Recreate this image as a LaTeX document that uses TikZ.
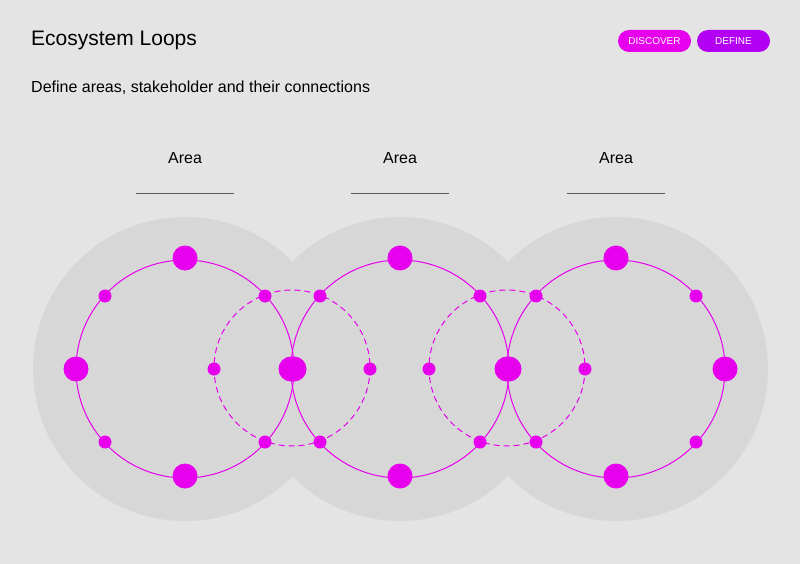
\documentclass[tikz,border=0pt]{standalone}
\usepackage{fontspec}
\setmainfont{Liberation Sans}
\usetikzlibrary{calc}
\begin{document}
\begin{tikzpicture}[x=1pt,y=-1pt]
\definecolor{bg}{HTML}{E4E4E4}
\definecolor{zone}{HTML}{D7D7D7}
\definecolor{mag}{HTML}{E600EE}
\definecolor{pur}{HTML}{B300F5}
\tikzset{ring/.style={draw=mag,line width=1pt},
 dring/.style={draw=mag,line width=1pt,dash pattern=on 6pt off 4pt},
 bigdot/.style={circle,fill=mag,inner sep=0pt,minimum size=25pt},
 smalldot/.style={circle,fill=mag,inner sep=0pt,minimum size=13pt},
 pill/.style={rounded corners=11pt,minimum width=73pt,minimum height=22pt,text=white,font=\fontsize{10}{11}\selectfont,inner sep=0pt},
 arealabel/.style={font=\fontsize{16}{18}\selectfont}}
\fill[bg] (0,0) rectangle (800,564);
\useasboundingbox (0,0) rectangle (800,564);
\node[anchor=west,font=\fontsize{21}{24}\selectfont,inner sep=0pt] (title) at (31,40) {Ecosystem Loops};
\node[anchor=west,font=\fontsize{16}{18}\selectfont,inner sep=0pt] (sub) at (31,88) {Define areas, stakeholder and their connections};
\node[pill,fill=mag] (disc) at (654.5,41) {DISCOVER};
\node[pill,fill=pur] (def) at (733.5,41) {DEFINE};
\foreach \c in {185,400,616}{\fill[zone] (\c,369) circle (152);}
\foreach \c/\n in {185/a,400/b,616/c}{
 \node[arealabel] (lab\n) at (\c,158) {Area};
 \draw[gray!70!black,line width=0.6pt] (\c-49,193) -- (\c+49,193);
 \draw[ring] (\c,369) circle (109);
 \node[bigdot] (\n t) at (\c,258) {};
 \node[bigdot] (\n b) at (\c,476) {};
 \node[bigdot] (\n l) at (\c-109,369) {};
 \node[bigdot] (\n r) at (\c+109,369) {};
 \foreach \dx/\dy in {80/73,-80/73,80/-73,-80/-73}{\node[smalldot] at (\c+\dx,369+\dy) {};}
}
\foreach \c in {292,507}{
 \draw[dring] (\c,368) circle (78);
 \node[smalldot] at (\c-78,369) {};
 \node[smalldot] at (\c+78,369) {};
}
\end{tikzpicture}
\end{document}
